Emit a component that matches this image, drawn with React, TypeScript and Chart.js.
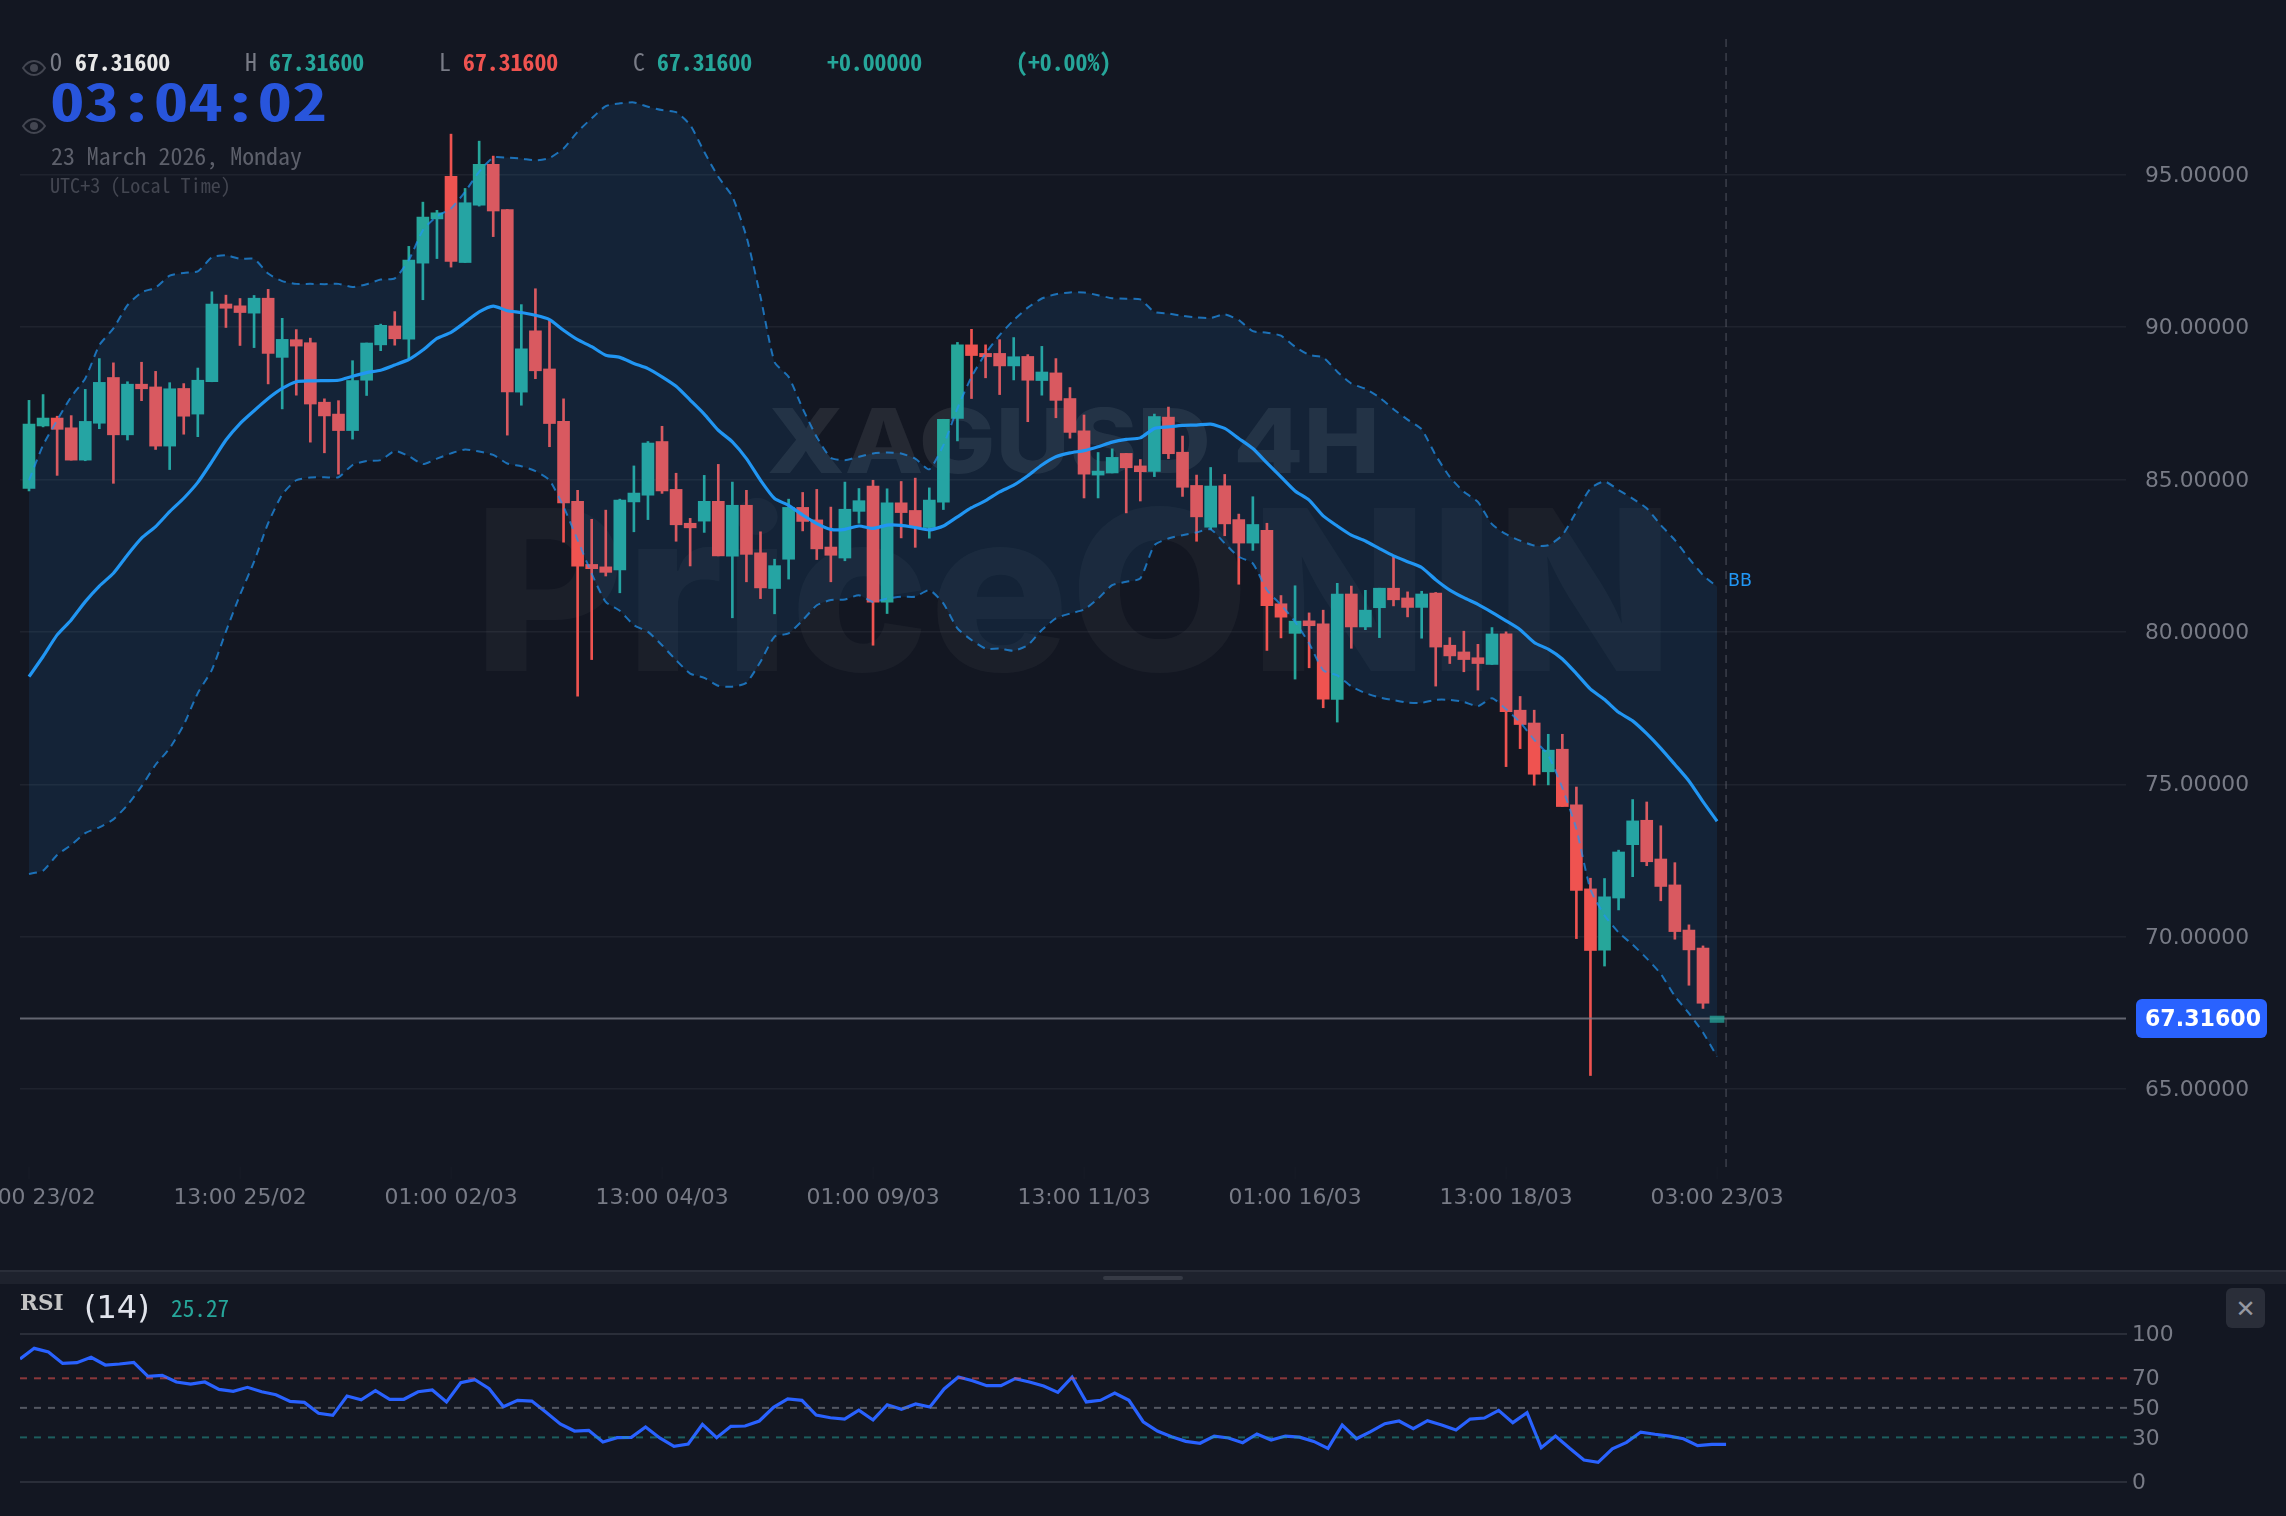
import { useEffect, useRef } from "react"
import { Chart, registerables } from "chart.js"

Chart.register(...registerables)

const opens = [
  84.70, 86.75, 87.01, 86.69, 85.63, 86.84, 88.34, 86.46, 88.12, 88.03, 86.09, 87.98, 87.14, 88.20, 90.75, 90.69,
  90.45, 90.94, 89.00, 89.58, 89.48, 87.53, 87.14, 86.60, 88.25, 89.41, 90.03, 89.60, 92.09, 93.54, 94.94, 92.11,
  93.99, 95.33, 93.85, 87.86, 89.87, 88.62, 86.90, 84.28, 82.21, 82.13, 82.03, 84.26, 84.48, 86.24, 84.67, 83.56,
  83.63, 84.28, 82.48, 84.15, 82.59, 81.42, 82.38, 84.08, 83.67, 82.78, 82.42, 83.95, 84.78, 80.97, 84.23, 83.98,
  83.42, 84.25, 87.00, 89.41, 89.13, 89.13, 88.72, 89.03, 88.24, 88.49, 87.65, 86.59, 85.14, 85.21, 85.85, 85.44,
  85.26, 87.04, 85.89, 84.80, 83.43, 84.79, 83.68, 82.91, 83.33, 80.92, 79.95, 80.36, 80.26, 77.78, 81.24, 80.16,
  80.79, 81.43, 81.11, 80.80, 81.27, 79.56, 79.34, 79.15, 78.93, 79.93, 77.43, 77.01, 75.41, 76.15, 74.33, 71.57,
  69.56, 71.27, 73.02, 73.82, 72.55, 71.70, 70.22, 69.63,
]
const highs = [
  87.59, 87.78, 87.07, 87.09, 87.95, 88.96, 88.82, 88.20, 88.84, 88.54, 88.17, 88.14, 88.65, 91.15, 91.04, 90.93,
  91.03, 91.23, 90.28, 89.91, 89.63, 87.64, 87.58, 88.89, 89.47, 90.09, 90.50, 92.64, 94.09, 93.82, 96.32, 94.54,
  96.09, 95.60, 93.85, 90.73, 91.25, 90.22, 87.64, 84.64, 83.69, 83.99, 84.35, 85.44, 86.24, 86.74, 85.20, 83.72,
  85.13, 85.49, 84.91, 84.64, 83.28, 82.38, 84.35, 84.57, 84.67, 84.09, 84.91, 84.70, 84.97, 84.69, 84.93, 85.04,
  84.72, 86.97, 89.49, 89.92, 89.41, 89.58, 89.65, 89.09, 89.36, 88.96, 88.01, 87.11, 85.88, 86.00, 85.85, 85.65,
  87.14, 87.37, 86.42, 85.14, 85.39, 85.16, 83.86, 84.43, 83.56, 81.19, 81.51, 80.62, 80.71, 81.59, 81.50, 81.36,
  81.43, 82.49, 81.31, 81.33, 81.29, 79.81, 80.02, 79.59, 80.14, 80.00, 77.88, 77.43, 76.64, 76.64, 74.91, 71.92,
  71.91, 72.84, 74.50, 74.42, 73.64, 72.43, 70.39, 69.70,
]
const lows = [
  84.62, 86.72, 85.13, 85.63, 85.61, 86.66, 84.87, 86.29, 87.58, 85.98, 85.32, 86.48, 86.40, 88.20, 89.98, 89.39,
  89.32, 88.13, 87.31, 87.76, 86.22, 85.87, 85.17, 86.32, 87.75, 89.22, 89.40, 88.97, 90.89, 92.24, 91.96, 92.11,
  93.96, 92.96, 86.45, 87.43, 88.30, 86.07, 82.94, 77.89, 79.09, 81.83, 81.28, 83.28, 83.68, 84.54, 82.97, 82.16,
  83.26, 82.49, 80.46, 81.64, 81.09, 80.59, 81.73, 83.31, 82.37, 81.64, 82.33, 83.56, 79.56, 80.60, 83.08, 82.77,
  83.07, 84.01, 86.26, 87.65, 88.33, 87.78, 88.26, 86.89, 87.76, 87.02, 86.35, 84.39, 84.39, 85.21, 83.90, 84.29,
  85.09, 85.68, 84.44, 82.97, 83.36, 83.15, 81.56, 82.67, 79.39, 79.80, 78.45, 78.82, 77.51, 77.04, 79.46, 80.07,
  79.81, 80.85, 80.49, 79.79, 78.22, 78.96, 78.69, 78.09, 78.93, 75.58, 76.17, 74.97, 74.98, 74.27, 69.94, 65.45,
  69.04, 70.88, 71.97, 72.33, 71.18, 69.92, 68.41, 67.65,
]
const closes = [
  86.81, 87.01, 86.64, 85.63, 86.90, 88.18, 86.46, 88.12, 87.97, 86.09, 87.97, 87.07, 88.25, 90.75, 90.61, 90.47,
  90.94, 89.13, 89.59, 89.37, 87.47, 87.08, 86.60, 88.24, 89.47, 90.05, 89.61, 92.19, 93.60, 93.74, 92.15, 94.07,
  95.33, 93.80, 87.87, 89.28, 88.56, 86.83, 84.23, 82.15, 82.07, 81.95, 84.32, 84.55, 86.19, 84.62, 83.51, 83.41,
  84.28, 82.49, 84.15, 82.54, 81.44, 82.17, 84.08, 83.62, 82.72, 82.51, 84.02, 84.30, 80.97, 84.23, 83.91, 83.43,
  84.32, 86.97, 89.41, 89.06, 89.02, 88.72, 89.02, 88.25, 88.52, 87.59, 86.54, 85.17, 85.27, 85.72, 85.38, 85.25,
  87.06, 85.84, 84.74, 83.77, 84.78, 83.54, 82.91, 83.52, 80.86, 80.48, 80.35, 80.20, 77.79, 81.24, 80.16, 80.71,
  81.43, 81.05, 80.80, 81.24, 79.50, 79.21, 79.09, 78.96, 79.93, 77.38, 76.96, 75.33, 76.12, 74.27, 71.52, 69.55,
  71.31, 72.78, 73.80, 72.46, 71.65, 70.17, 69.57, 67.82,
]
// the forming bar at index 120 has O=H=L=C, the platform paints it as a thin block
const formingBar = 120
const formingBody = [67.19, 67.40]

const upperBand = [
  84.97, 86.12, 86.94, 87.71, 88.31, 89.40, 89.95, 90.71, 91.13, 91.29, 91.68, 91.77, 91.82, 92.28, 92.35, 92.23,
  92.23, 91.75, 91.50, 91.41, 91.41, 91.40, 91.41, 91.31, 91.40, 91.55, 91.59, 92.19, 93.17, 93.63, 93.88, 94.43,
  95.09, 95.55, 95.55, 95.52, 95.46, 95.54, 95.85, 96.40, 96.84, 97.24, 97.33, 97.36, 97.22, 97.11, 97.04, 96.62,
  95.74, 94.92, 94.27, 92.96, 90.99, 88.85, 88.36, 87.32, 86.39, 85.71, 85.63, 85.74, 85.85, 85.88, 85.85, 85.68,
  85.33, 86.12, 87.33, 88.36, 89.13, 89.73, 90.22, 90.63, 90.93, 91.07, 91.13, 91.13, 91.04, 90.94, 90.92, 90.90,
  90.49, 90.44, 90.36, 90.31, 90.29, 90.41, 90.22, 89.86, 89.81, 89.71, 89.35, 89.08, 89.00, 88.53, 88.14, 87.97,
  87.69, 87.30, 86.96, 86.64, 85.79, 85.08, 84.59, 84.26, 83.53, 83.20, 82.99, 82.83, 82.84, 83.17, 83.94, 84.70,
  84.93, 84.65, 84.37, 84.05, 83.50, 83.01, 82.41, 81.86, 81.48,
]
const midBand = [
  78.53, 79.19, 79.90, 80.39, 80.99, 81.50, 81.92, 82.52, 83.07, 83.45, 83.94, 84.38, 84.90, 85.58, 86.29, 86.83,
  87.25, 87.65, 87.98, 88.20, 88.23, 88.24, 88.25, 88.38, 88.50, 88.58, 88.75, 88.93, 89.24, 89.62, 89.82, 90.15,
  90.49, 90.68, 90.53, 90.47, 90.38, 90.24, 89.89, 89.58, 89.35, 89.07, 89.00, 88.80, 88.63, 88.36, 88.05, 87.60,
  87.14, 86.61, 86.23, 85.68, 84.97, 84.37, 84.15, 83.83, 83.55, 83.36, 83.36, 83.47, 83.39, 83.50, 83.49, 83.42,
  83.34, 83.47, 83.77, 84.07, 84.30, 84.59, 84.81, 85.12, 85.47, 85.74, 85.87, 85.94, 86.07, 86.22, 86.31, 86.36,
  86.67, 86.72, 86.77, 86.78, 86.81, 86.67, 86.34, 86.01, 85.54, 85.08, 84.62, 84.32, 83.80, 83.47, 83.17, 82.98,
  82.73, 82.49, 82.30, 82.11, 81.71, 81.37, 81.12, 80.90, 80.64, 80.36, 80.07, 79.65, 79.43, 79.11, 78.63, 78.12,
  77.78, 77.36, 77.08, 76.66, 76.18, 75.65, 75.11, 74.43, 73.79,
]
const lowerBand = [
  72.06, 72.17, 72.68, 73.01, 73.40, 73.59, 73.85, 74.32, 74.93, 75.64, 76.18, 76.95, 77.99, 78.75, 80.01, 81.21,
  82.30, 83.56, 84.50, 84.97, 85.06, 85.07, 85.07, 85.47, 85.60, 85.63, 85.93, 85.76, 85.50, 85.68, 85.85, 85.98,
  85.91, 85.80, 85.52, 85.43, 85.27, 84.97, 84.10, 83.01, 81.91, 80.98, 80.69, 80.22, 80.00, 79.56, 79.07, 78.63,
  78.49, 78.23, 78.20, 78.33, 79.02, 79.84, 79.95, 80.38, 80.87, 81.04, 81.06, 81.20, 80.98, 81.09, 81.15, 81.15,
  81.37, 80.93, 80.11, 79.73, 79.45, 79.45, 79.38, 79.56, 80.06, 80.44, 80.60, 80.73, 81.09, 81.53, 81.64, 81.75,
  82.84, 83.06, 83.17, 83.26, 83.36, 82.90, 82.46, 82.24, 81.37, 80.88, 80.33, 79.62, 78.74, 78.57, 78.21, 77.99,
  77.85, 77.76, 77.68, 77.67, 77.77, 77.77, 77.70, 77.56, 77.82, 77.46, 77.03, 76.46, 75.95, 74.88, 73.53, 71.55,
  70.70, 70.14, 69.74, 69.29, 68.78, 68.05, 67.49, 66.86, 66.07,
]

const rsiValues = [
  83.1, 90.3, 87.8, 80.1, 80.6, 84.2, 79.0, 79.7, 80.8, 71.3, 72.0, 67.5, 66.1, 67.5, 62.5, 61.2,
  63.9, 60.9, 58.9, 54.4, 53.7, 46.3, 44.9, 58.0, 55.5, 61.6, 55.8, 55.8, 60.9, 62.1, 54.0, 67.0,
  69.1, 63.0, 50.8, 55.1, 54.6, 47.0, 39.1, 34.3, 34.8, 26.9, 29.8, 30.0, 37.0, 29.6, 23.9, 25.5,
  38.8, 29.8, 37.5, 37.7, 41.1, 50.3, 56.0, 55.1, 45.1, 43.3, 42.4, 48.5, 41.8, 52.1, 49.0, 52.6,
  50.6, 62.8, 70.9, 68.4, 65.0, 65.0, 69.8, 67.5, 64.8, 60.5, 70.7, 54.0, 55.1, 60.0, 55.1, 40.6,
  34.3, 30.5, 27.3, 26.0, 30.9, 29.6, 26.4, 32.3, 28.2, 30.9, 30.2, 27.3, 22.6, 38.4, 29.1, 33.9,
  39.3, 41.1, 35.9, 41.3, 38.4, 35.0, 42.4, 43.1, 48.3, 40.0, 46.7, 23.0, 30.9, 22.6, 14.7, 13.1,
  22.3, 26.6, 33.6, 32.1, 30.9, 29.1, 24.4, 25.3, 25.27,
]

const timeLabels = [
  "01:00 23/02", "13:00 25/02", "01:00 02/03", "13:00 04/03", "01:00 09/03",
  "13:00 11/03", "01:00 16/03", "13:00 18/03", "03:00 23/03",
]
const timeLabelBars = [0, 15, 30, 45, 60, 75, 90, 105, 120]
const priceTicks = [65, 70, 75, 80, 85, 90, 95]
const rsiTicks = [0, 30, 50, 70, 100]
const rsiLevels = [70, 50, 30]
const rsiLevelColors = ["rgba(239,83,80,0.55)", "rgba(120,123,134,0.65)", "rgba(38,166,154,0.5)"]

const lastPrice = 67.316
const crosshairBar = 120.64

const BG = "#131722"
const UP = "#26a69a"
const DOWN = "#ef5350"
const BAND = "#2196f3"
const GREY = "#787b86"
const SANS = '"DejaVu Sans", sans-serif'
const MONO = '"Noto Sans Mono CJK SC", "DejaVu Sans Mono", monospace'

const candleColor = (i: number) => (closes[i] >= opens[i] ? UP : DOWN)

// watermark text fitted to a given box, sits behind the candles
function drawWatermark(ctx: CanvasRenderingContext2D, text: string, left: number, right: number, baseline: number, size: number, color: string) {
  ctx.save()
  ctx.font = `800 ${size}px Inter, "DejaVu Sans", sans-serif`
  ctx.fillStyle = color
  ctx.textAlign = "left"
  ctx.textBaseline = "alphabetic"
  const w = ctx.measureText(text).width
  ctx.translate(left, baseline)
  ctx.scale((right - left) / w, 1)
  ctx.fillText(text, 0, 0)
  ctx.restore()
}

const watermarkPlugin = {
  id: "watermark",
  beforeDatasetsDraw(chart: Chart) {
    drawWatermark(chart.ctx, "PriceONIN", 473, 1674, 671, 224, "rgba(255,255,255,0.035)")
    drawWatermark(chart.ctx, "XAGUSD 4H", 767, 1380, 473, 89, "rgba(255,255,255,0.08)")
  },
}

const overlayPlugin = {
  id: "overlay",
  afterDraw(chart: Chart) {
    const { ctx, chartArea } = chart
    const x = chart.scales.x
    const y = chart.scales.y

    // crosshair
    ctx.save()
    ctx.strokeStyle = "rgba(120,123,134,0.4)"
    ctx.lineWidth = 1.5
    ctx.setLineDash([8, 6])
    ctx.beginPath()
    ctx.moveTo(x.getPixelForValue(crosshairBar), chartArea.top)
    ctx.lineTo(x.getPixelForValue(crosshairBar), chartArea.bottom)
    ctx.stroke()
    ctx.restore()

    // time axis, drawn by hand so the clipped first label does not push the plot area
    ctx.save()
    ctx.font = `21.9px ${SANS}`
    ctx.textAlign = "center"
    ctx.textBaseline = "middle"
    timeLabels.forEach((label, i) => {
      const px = x.getPixelForValue(timeLabelBars[i])
      ctx.fillStyle = "rgba(255,255,255,0.025)"
      ctx.fillRect(px - 0.5, chartArea.bottom, 1, 12)
      ctx.fillStyle = GREY
      ctx.fillText(label, px, 1198)
    })
    ctx.restore()

    // BB label
    ctx.save()
    ctx.font = `17.5px ${SANS}`
    ctx.fillStyle = BAND
    ctx.textAlign = "left"
    ctx.textBaseline = "middle"
    ctx.fillText("BB", x.getPixelForValue(formingBar) + 11, y.getPixelForValue(upperBand[formingBar]) - 5)
    ctx.restore()

    // last price badge
    const py = y.getPixelForValue(lastPrice)
    ctx.save()
    ctx.fillStyle = "#2962ff"
    ctx.beginPath()
    ctx.roundRect(2136, py - 19.5, 131, 39, 6)
    ctx.fill()
    ctx.font = `700 22.1px ${SANS}`
    ctx.fillStyle = "#ffffff"
    ctx.textAlign = "center"
    ctx.textBaseline = "middle"
    ctx.fillText(lastPrice.toFixed(5), 2203, py + 2)
    ctx.restore()
  },
}

function PriceChart() {
  const ref = useRef<HTMLCanvasElement>(null)

  useEffect(() => {
    if (!ref.current) return
    const bars = opens.map((_, i) => i)

    const chart = new Chart(ref.current, {
      data: {
        datasets: [
          {
            type: "bar",
            data: bars.map((i) => ({ x: i, y: [lows[i], highs[i]] })),
            backgroundColor: bars.map(candleColor),
            barThickness: 2,
            grouped: false,
            order: 5,
          },
          {
            type: "bar",
            data: bars.map((i) => ({ x: i, y: [opens[i], closes[i]] })),
            backgroundColor: bars.map(candleColor),
            barThickness: 12,
            grouped: false,
            order: 4,
          },
          {
            type: "line",
            data: upperBand.map((v, i) => ({ x: i, y: v })),
            borderColor: "rgba(33,150,243,0.7)",
            borderWidth: 2,
            borderDash: [8, 6],
            pointRadius: 0,
            tension: 0.2,
            fill: 3,
            backgroundColor: "rgba(33,150,243,0.1)",
            order: 2,
          },
          {
            type: "line",
            data: lowerBand.map((v, i) => ({ x: i, y: v })),
            borderColor: "rgba(33,150,243,0.7)",
            borderWidth: 2,
            borderDash: [8, 6],
            pointRadius: 0,
            tension: 0.2,
            order: 3,
          },
          {
            type: "line",
            data: midBand.map((v, i) => ({ x: i, y: v })),
            borderColor: BAND,
            borderWidth: 3.2,
            pointRadius: 0,
            tension: 0.2,
            order: 1,
          },
          {
            type: "line",
            data: [
              { x: -1, y: lastPrice },
              { x: 150, y: lastPrice },
            ],
            borderColor: "rgba(120,123,134,0.8)",
            borderWidth: 2,
            pointRadius: 0,
            order: 0,
          },
          {
            type: "bar",
            data: [{ x: formingBar, y: formingBody }],
            backgroundColor: "rgba(38,166,154,0.75)",
            barThickness: 14,
            grouped: false,
            order: -1,
          },
        ],
      },
      options: {
        animation: false,
        responsive: false,
        devicePixelRatio: 1,
        layout: { padding: { left: 20, top: 39, bottom: 103, right: 0 } },
        plugins: { legend: { display: false }, tooltip: { enabled: false } },
        scales: {
          x: { type: "linear", display: false, offset: false, min: -0.64, max: 149.07 },
          y: {
            type: "linear",
            position: "right",
            min: 62.45,
            max: 99.44,
            afterFit: (scale: any) => {
              scale.width = 160
            },
            afterBuildTicks: (scale: any) => {
              scale.ticks = priceTicks.map((value) => ({ value }))
            },
            border: { display: false },
            grid: { color: "rgba(255,255,255,0.055)", lineWidth: 1.5, drawTicks: false },
            ticks: {
              padding: 19,
              labelOffset: 1.5,
              color: GREY,
              font: { family: SANS, size: 21.8 },
              callback: (v: any) => Number(v).toFixed(5),
            },
          },
        },
      },
      plugins: [watermarkPlugin, overlayPlugin],
    } as any)

    return () => chart.destroy()
  }, [])

  return <canvas ref={ref} width={2286} height={1270} style={{ position: "absolute", left: 0, top: 0, width: 2286, height: 1270 }} />
}

function RsiChart() {
  const ref = useRef<HTMLCanvasElement>(null)

  useEffect(() => {
    if (!ref.current) return

    const chart = new Chart(ref.current, {
      type: "line",
      data: {
        datasets: [
          ...rsiLevels.map((level, i) => ({
            data: [
              { x: 0, y: level },
              { x: 149, y: level },
            ],
            borderColor: rsiLevelColors[i],
            borderWidth: 2,
            borderDash: [7, 7],
            pointRadius: 0,
          })),
          {
            data: rsiValues.map((v, i) => ({ x: i, y: v })),
            borderColor: "#2962ff",
            borderWidth: 3.2,
            pointRadius: 0,
            tension: 0,
          },
        ],
      },
      options: {
        animation: false,
        responsive: false,
        devicePixelRatio: 1,
        layout: { padding: { left: 20, top: 50, bottom: 34.3, right: 0 } },
        plugins: { legend: { display: false }, tooltip: { enabled: false } },
        scales: {
          x: { type: "linear", display: false, min: 0, max: 148.2 },
          y: {
            type: "linear",
            position: "right",
            min: 0,
            max: 100,
            afterFit: (scale: any) => {
              scale.width = 159
            },
            afterBuildTicks: (scale: any) => {
              scale.ticks = rsiTicks.map((value) => ({ value }))
            },
            border: { display: false },
            grid: {
              color: (c: any) => (c.tick.value === 0 || c.tick.value === 100 ? "#2a2e39" : "transparent"),
              lineWidth: 2,
              drawTicks: false,
            },
            ticks: { padding: 5, labelOffset: 1.5, color: GREY, font: { family: SANS, size: 21.8 } },
          },
        },
      },
    } as any)

    return () => chart.destroy()
  }, [])

  return <canvas ref={ref} width={2286} height={232} style={{ position: "absolute", left: 0, top: 1284, width: 2286, height: 232 }} />
}

function Label({ x, y, size, color, weight, font, children }: any) {
  return (
    <div
      style={{
        position: "absolute",
        left: x,
        top: y,
        fontSize: size,
        lineHeight: 1,
        color,
        fontWeight: weight ?? 400,
        fontFamily: font ?? MONO,
        fontVariantNumeric: "slashed-zero",
        whiteSpace: "pre",
      }}
    >
      {children}
    </div>
  )
}

function Eye({ y }: { y: number }) {
  return (
    <svg width={24} height={16} viewBox="0 0 24 16" style={{ position: "absolute", left: 22, top: y }}>
      <path d="M1 8 C5 2 9 1 12 1 C15 1 19 2 23 8 C19 14 15 15 12 15 C9 15 5 14 1 8 Z" fill="none" stroke="#434651" strokeWidth={2} />
      <circle cx={12} cy={8} r={4} fill="#434651" />
    </svg>
  )
}

export default function App() {
  useEffect(() => {
    document.body.style.margin = "0"
    document.body.style.background = BG
  }, [])

  const value = lastPrice.toFixed(5)

  return (
    <div style={{ position: "relative", width: 2286, height: 1516, background: BG, overflow: "hidden" }}>
      <PriceChart />
      <div style={{ position: "absolute", left: 0, top: 1270, width: 2286, height: 2, background: "#2a2e39" }} />
      <div style={{ position: "absolute", left: 0, top: 1272, width: 2286, height: 12, background: "#1e222d" }} />
      <div style={{ position: "absolute", left: 1103, top: 1276, width: 80, height: 4, borderRadius: 2, background: "#363a45" }} />
      <RsiChart />

      <Eye y={60} />
      <Eye y={118} />
      <Label x={50} y={49} size={23.8} color={GREY}>O</Label>
      <Label x={75} y={49} size={23.8} color="#e8e8e8" weight={700}>{value}</Label>
      <Label x={245} y={49} size={23.8} color={GREY}>H</Label>
      <Label x={269} y={49} size={23.8} color={UP} weight={700}>{value}</Label>
      <Label x={439} y={49} size={23.8} color={GREY}>L</Label>
      <Label x={463} y={49} size={23.8} color={DOWN} weight={700}>{value}</Label>
      <Label x={633} y={49} size={23.8} color={GREY}>C</Label>
      <Label x={657} y={49} size={23.8} color={UP} weight={700}>{value}</Label>
      <Label x={827} y={49} size={23.8} color={UP} weight={700}>+0.00000</Label>
      <Label x={1016} y={49} size={23.8} color={UP} weight={700}>(+0.00%)</Label>

      <div
        style={{
          position: "absolute",
          left: 50,
          top: 74,
          fontSize: 50.5,
          lineHeight: 1,
          fontWeight: 700,
          color: "#2855dc",
          fontFamily: MONO,
          fontVariantNumeric: "slashed-zero",
          transform: "scaleX(1.37)",
          transformOrigin: "left top",
        }}
      >
        03:04:02
      </div>
      <Label x={51} y={143} size={23.9} color="#5d606b">23 March 2026, Monday</Label>
      <Label x={50} y={175} size={20.1} color="#434651">UTC+3 (Local Time)</Label>

      <Label x={20} y={1292} size={21.6} color="#c4c4c4" weight={700} font='"DejaVu Serif", serif'>RSI</Label>
      <Label x={84} y={1291} size={32} color="#e0e3eb" font={SANS}>(14)</Label>
      <Label x={171} y={1296} size={23.3} color={UP}>25.27</Label>

      <div
        style={{
          position: "absolute",
          left: 2226,
          top: 1288,
          width: 39,
          height: 40,
          borderRadius: 6,
          background: "#2a2e39",
          color: "#9598a1",
          fontFamily: SANS,
          fontSize: 24,
          lineHeight: "42px",
          textAlign: "center",
        }}
      >
        ✕
      </div>
    </div>
  )
}
